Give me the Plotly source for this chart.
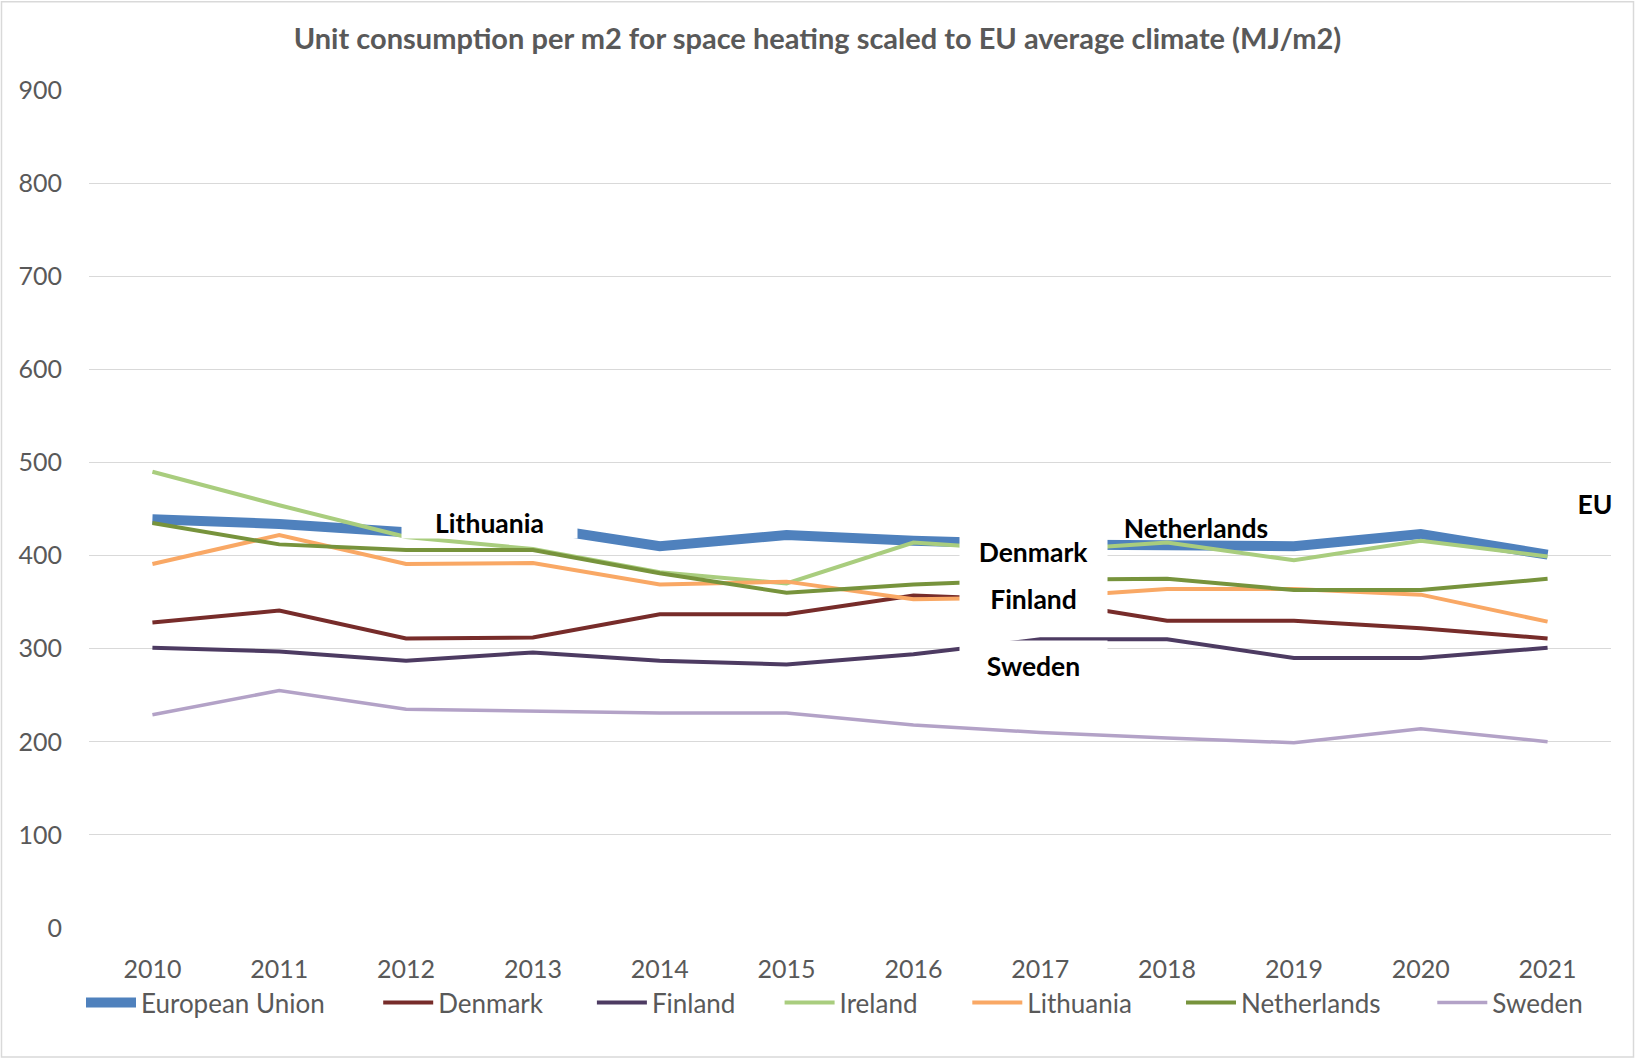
import plotly.graph_objects as go

years = [2010, 2011, 2012, 2013, 2014, 2015, 2016, 2017, 2018, 2019, 2020, 2021]

european_union = [439, 434, 425, 431, 410, 422, 416, 412, 411, 410, 423, 401]
denmark = [328, 341, 311, 312, 337, 337, 357, 352, 330, 330, 322, 311]
finland = [301, 297, 287, 296, 287, 283, 294, 310, 310, 290, 290, 301]
ireland = [490, 454, 420, 407, 382, 370, 414, 405, 414, 395, 416, 399]
lithuania = [391, 422, 391, 392, 369, 372, 353, 355, 364, 364, 358, 329]
netherlands = [435, 412, 406, 406, 381, 360, 369, 374, 375, 363, 363, 375]
sweden = [229, 255, 235, 233, 231, 231, 218, 210, 204, 199, 214, 200]

series_names = ["European Union", "Denmark", "Finland", "Ireland", "Lithuania", "Netherlands", "Sweden"]
series_values = [european_union, denmark, finland, ireland, lithuania, netherlands, sweden]

y_ticks = [0, 100, 200, 300, 400, 500, 600, 700, 800, 900]

# ---- styling ----
series_colors = ["#4F81BD", "#772C2A", "#4D3B62", "#A9CD7E", "#F9A865", "#77933C", "#B3A2C7"]
series_widths = [10, 4, 4, 4, 4, 4, 3.5]
legend_px = [81, 378.2, 591.9, 779.6, 967.3, 1181, 1432.3]

FONT = "Lato"
GREY = "#595959"

# plot area in px
L, R, T, B = 89, 1611, 89.7, 928.3
W, H = R - L, B - T


def px(x):
    return (x - L) / W


def py(y):
    return (B - y) / H


fig = go.Figure()
legend_layouts = {}
for i, (name, vals, col, w) in enumerate(zip(series_names, series_values, series_colors, series_widths)):
    lg = "legend" if i == 0 else "legend%d" % (i + 1)
    fig.add_trace(go.Scatter(x=years, y=vals, name=name, mode="lines",
                             line=dict(color=col, width=w), legend=lg))
    legend_layouts[lg] = dict(orientation="h", x=px(legend_px[i]), y=py(1003),
                              xanchor="left", yanchor="middle",
                              font=dict(family=FONT, size=26, color=GREY),
                              itemwidth=50, bgcolor="rgba(0,0,0,0)")

labels = [
    # text, cx, cy, w, h, bg
    ("Lithuania", 489.5, 523, 175, 30, True),
    ("Denmark", 1033.5, 551.5, 147, 47, True),
    ("Finland", 1033.5, 598.5, 147, 47, True),
    ("Sweden", 1033.5, 665.5, 147, 49, True),
    ("Netherlands", 1196, 528, 150, 22, True),
    ("EU", 1595, 504, 40, 30, False),
]
for text, cx, cy, w, h, bg in labels:
    fig.add_annotation(text="<b>%s</b>" % text, xref="paper", yref="paper",
                       x=px(cx), y=py(cy), xanchor="center", yanchor="middle",
                       width=w, height=h, showarrow=False, borderpad=0,
                       bgcolor="white" if bg else "rgba(0,0,0,0)",
                       font=dict(family=FONT, size=26.5, color="black"))

fig.add_shape(type="rect", xref="paper", yref="paper",
              x0=px(1.5), x1=px(1633.5), y0=py(1057.5), y1=py(1.5),
              line=dict(color="#D9D9D9", width=1.5), fillcolor="rgba(0,0,0,0)", layer="below")

fig.update_layout(
    width=1635, height=1059,
    margin=dict(l=L, r=1635 - R, t=T, b=1059 - B),
    paper_bgcolor="white", plot_bgcolor="white",
    font=dict(family=FONT, color=GREY, size=25),
    title=dict(text="<b>Unit consumption per m2 for space heating scaled to EU average climate (MJ/m2)</b>",
               xref="container", yref="container", x=0.5, y=1 - 38.6 / 1059,
               xanchor="center", yanchor="middle",
               font=dict(family=FONT, size=29, color=GREY)),
    xaxis=dict(range=[2009.5, 2021.5], tickmode="array", tickvals=years,
               ticktext=[str(y) for y in years], showgrid=False, zeroline=False,
               showline=False, ticks="", ticklabelstandoff=24,
               tickfont=dict(family=FONT, size=25, color=GREY)),
    yaxis=dict(range=[0, 900], tickmode="array", tickvals=y_ticks, showgrid=True,
               gridcolor="#D9D9D9", gridwidth=1, zeroline=False, showline=False,
               ticks="", ticklabelstandoff=26,
               tickfont=dict(family=FONT, size=25, color=GREY)),
    showlegend=True,
    **legend_layouts,
)

fig.write_html("out.html", config={"displayModeBar": False},
               post_script="document.body.style.margin='0';document.body.style.overflow='hidden';")
